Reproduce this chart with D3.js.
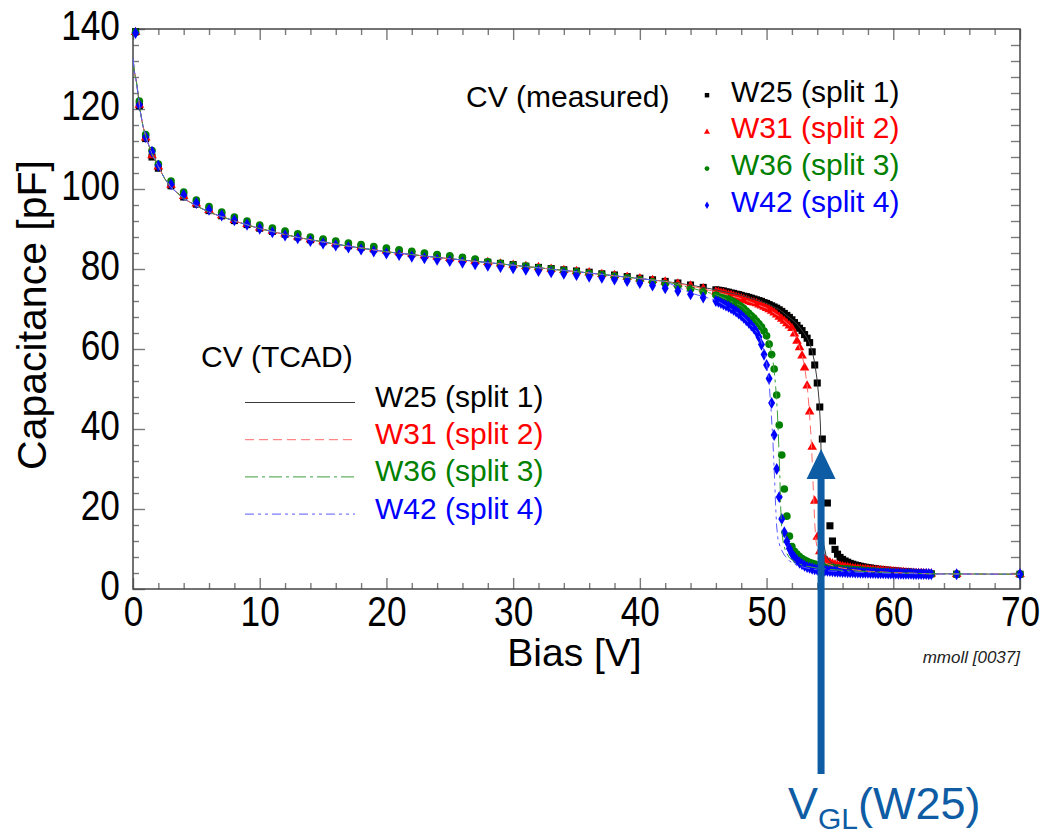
<!DOCTYPE html>
<html>
<head>
<meta charset="utf-8">
<script src="https://cdn.jsdelivr.net/npm/d3@7"></script>
<style>
  body { margin: 0; background: #fff; }
  svg { display: block; font-family: "Liberation Sans", Arial, sans-serif; }
</style>
</head>
<body>
<script>
// ---- data ----
// bias points of the measured CV scans (same for every wafer)
const V_MEAS = [
  0.2, 0.5, 1, 1.5, 2, 3, 4, 5, 6, 7, 8, 9, 10, 11, 12, 13, 14, 15, 16, 17,
  18, 19, 20, 21, 22, 23, 24, 25, 26, 27, 28, 29, 30, 31, 32, 33, 34, 35, 36, 37,
  38, 39, 40, 41, 42, 43, 44, 45,
  46.0, 46.2, 46.4, 46.6, 46.8, 47.0, 47.2, 47.4, 47.6, 47.8,
  48.0, 48.2, 48.4, 48.6, 48.8, 49.0, 49.2, 49.4, 49.6, 49.8,
  50.0, 50.2, 50.4, 50.6, 50.8, 51.0, 51.2, 51.4, 51.6, 51.8,
  52.0, 52.2, 52.4, 52.6, 52.8, 53.0, 53.2, 53.4, 53.6, 53.8,
  54.0, 54.2, 54.4, 54.6, 54.8, 55.0, 55.2, 55.4, 55.6, 55.8,
  56.0, 56.2, 56.4, 56.6, 56.8, 57.0, 57.2, 57.4, 57.6, 57.8,
  58.0, 58.2, 58.4, 58.6, 58.8, 59.0, 59.2, 59.4, 59.6, 59.8,
  60.0, 60.2, 60.4, 60.6, 60.8, 61.0, 61.2, 61.4, 61.6, 61.8,
  62.0, 62.2, 62.4, 62.6, 62.8, 63.0,
  65, 70
];

// measured capacitance [pF]
const C_W25 = [
  139.3, 120.8, 112.6, 108.0, 105.2, 100.8, 98.0, 96.2, 94.6, 93.3,
  92.1, 91.1, 90.2, 89.4, 88.7, 88.0, 87.3, 86.8, 86.3, 85.8,
  85.4, 85.0, 84.6, 84.2, 83.8, 83.4, 83.1, 82.7, 82.4, 82.0,
  81.7, 81.4, 81.1, 80.7, 80.4, 80.1, 79.8, 79.5, 79.2, 78.8,
  78.5, 78.1, 77.7, 77.3, 76.9, 76.5, 76.0, 75.4,
  74.8, 74.7, 74.6, 74.5, 74.3, 74.2, 74.0, 73.9, 73.7, 73.6,
  73.4, 73.2, 73.1, 72.9, 72.7, 72.5, 72.3, 72.1, 71.9, 71.6,
  71.4, 71.1, 70.8, 70.5, 70.2, 69.8, 69.4, 68.9, 68.4, 67.9,
  67.3, 66.6, 65.9, 65.2, 64.6, 63.6, 62.7, 61.6, 59.3, 56.0,
  51.5, 45.5, 37.5, 29.0, 21.5, 15.8, 12.0, 9.9, 8.7, 7.9,
  7.4, 7.0, 6.7, 6.4, 6.2, 6.0, 5.85, 5.7, 5.55, 5.45,
  5.35, 5.25, 5.15, 5.05, 4.95, 4.9, 4.8, 4.75, 4.7, 4.6,
  4.55, 4.5, 4.45, 4.4, 4.35, 4.3, 4.25, 4.2, 4.15, 4.1,
  4.05, 4.0, 3.95, 3.9, 3.85, 3.8,
  3.7, 3.7
];
const C_W31 = [
  139.2, 121.0, 112.8, 108.4, 105.6, 101.0, 98.2, 96.3, 94.7, 93.4,
  92.2, 91.2, 90.3, 89.5, 88.8, 88.1, 87.4, 86.9, 86.4, 85.9,
  85.5, 85.1, 84.6, 84.2, 83.8, 83.4, 83.1, 82.7, 82.4, 82.0,
  81.7, 81.3, 81.0, 80.7, 80.4, 80.0, 79.7, 79.4, 79.1, 78.7,
  78.4, 78.0, 77.6, 77.2, 76.8, 76.3, 75.8, 75.1,
  74.3, 74.2, 74.0, 73.9, 73.7, 73.5, 73.4, 73.2, 73.0, 72.8,
  72.6, 72.4, 72.2, 71.9, 71.7, 71.6, 71.4, 71.1, 70.8, 70.5,
  70.2, 69.9, 69.5, 69.1, 68.6, 68.0, 67.5, 67.0, 66.4, 65.8,
  65.2, 63.8, 62.0, 60.4, 58.3, 55.3, 50.8, 44.3, 35.5, 22.0,
  13.0, 9.4, 8.2, 7.4, 6.9, 6.6, 6.3, 6.1, 5.9, 5.75,
  5.6, 5.5, 5.4, 5.3, 5.2, 5.1, 5.05, 5.0, 4.95, 4.9,
  4.85, 4.8, 4.75, 4.7, 4.65, 4.6, 4.55, 4.5, 4.45, 4.4,
  4.35, 4.3, 4.25, 4.2, 4.15, 4.1, 4.05, 4.0, 3.98, 3.95,
  3.92, 3.9, 3.87, 3.85, 3.82, 3.8,
  3.7, 3.7
];
const C_W36 = [
  139.2, 122.0, 113.6, 109.6, 106.2, 102.0, 99.2, 97.2, 95.6, 94.2,
  93.0, 92.0, 91.0, 90.2, 89.5, 88.8, 88.0, 87.5, 87.0, 86.5,
  86.1, 85.6, 85.2, 84.8, 84.4, 84.0, 83.6, 83.3, 82.9, 82.5,
  81.8, 81.4, 81.0, 80.7, 80.3, 80.0, 79.6, 79.3, 78.9, 78.6,
  78.2, 77.8, 77.3, 76.8, 76.3, 75.7, 75.0, 74.3,
  73.5, 73.3, 73.1, 72.9, 72.7, 72.4, 72.1, 71.8, 71.4, 71.0,
  70.6, 70.1, 69.5, 68.9, 68.3, 67.7, 67.0, 66.3, 65.5, 64.5,
  63.3, 61.2, 58.6, 55.0, 48.5, 41.0, 33.5, 25.0, 18.2, 13.2,
  10.6, 9.4, 8.7, 8.1, 7.6, 7.2, 6.9, 6.6, 6.4, 6.2,
  6.0, 5.85, 5.7, 5.6, 5.5, 5.4, 5.3, 5.25, 5.2, 5.1,
  5.05, 5.0, 4.95, 4.9, 4.85, 4.8, 4.75, 4.7, 4.65, 4.6,
  4.55, 4.5, 4.45, 4.4, 4.38, 4.35, 4.3, 4.25, 4.2, 4.18,
  4.15, 4.1, 4.07, 4.05, 4.02, 4.0, 3.97, 3.95, 3.92, 3.9,
  3.87, 3.85, 3.82, 3.8, 3.78, 3.75,
  3.7, 3.7
];
const C_W42 = [
  139.0, 121.0, 113.0, 109.3, 105.8, 101.2, 98.5, 96.5, 94.8, 93.4,
  92.2, 91.1, 90.1, 89.2, 88.4, 87.7, 87.0, 86.4, 85.9, 85.4,
  84.9, 84.4, 83.9, 83.5, 83.1, 82.7, 82.3, 82.0, 81.6, 81.2,
  80.8, 80.5, 80.2, 79.8, 79.5, 79.2, 78.8, 78.5, 78.1, 77.8,
  77.4, 77.0, 76.5, 75.9, 75.2, 74.5, 73.7, 72.9,
  72.0, 71.8, 71.5, 71.2, 70.9, 70.6, 70.2, 69.8, 69.4, 68.9,
  68.4, 67.8, 67.2, 66.6, 65.9, 65.2, 64.3, 63.0, 61.1, 58.6,
  56.0, 52.6, 46.5, 38.5, 30.0, 23.0, 17.5, 14.2, 11.9, 10.1,
  8.8, 7.9, 7.2, 6.6, 6.2, 5.8, 5.5, 5.3, 5.1, 4.95,
  4.85, 4.75, 4.65, 4.6, 4.55, 4.5, 4.45, 4.4, 4.35, 4.3,
  4.28, 4.25, 4.22, 4.2, 4.17, 4.15, 4.12, 4.1, 4.08, 4.06,
  4.04, 4.02, 4.0, 3.98, 3.96, 3.95, 3.93, 3.92, 3.9, 3.89,
  3.88, 3.86, 3.85, 3.84, 3.83, 3.82, 3.8, 3.79, 3.78, 3.77,
  3.76, 3.75, 3.74, 3.73, 3.72, 3.7,
  3.7, 3.7
];

// TCAD simulation: the four curves coincide below 44 V
const TCAD_LOW = [
  [0, 132.7], [0.1, 129.5], [0.3, 126.2], [0.55, 119.8], [0.8, 115.5], [1.1, 112.2],
  [1.5, 108.8], [1.9, 106.2], [2.5, 102.6], [3, 100.4], [4, 97.6], [5, 95.8],
  [6, 94.2], [8, 92.0], [10, 90.1], [13, 87.9], [16, 86.2], [20, 84.3],
  [24, 82.9], [28, 81.6], [32, 80.3], [36, 79.0], [40, 77.6], [42, 76.9]
];
const TCAD_W25 = [
  [44, 76.0], [46, 74.8], [48, 73.4], [50, 71.4], [51, 69.9], [52, 67.4], [52.5, 65.9],
  [53, 63.8], [53.3, 62.2], [53.6, 59.5], [53.8, 56.5], [54.0, 52.0], [54.15, 47.0],
  [54.25, 41.0], [54.32, 32.0], [54.38, 22.0], [54.44, 15.0], [54.52, 11.0], [54.7, 8.3],
  [55.0, 6.9], [55.5, 5.9], [56, 5.3], [57, 4.7], [58, 4.4], [60, 4.05], [63, 3.8], [70, 3.7]
];
const TCAD_W31 = [
  [44, 75.8], [46, 74.3], [48, 72.6], [50, 70.2], [51, 68.2], [52, 65.3], [52.4, 62.3],
  [52.8, 58.5], [53.0, 55.6], [53.2, 51.0], [53.35, 45.5], [53.5, 38.5], [53.6, 32.0],
  [53.7, 24.0], [53.8, 16.5], [53.9, 12.0], [54.05, 9.2], [54.3, 7.5], [54.7, 6.4],
  [55.3, 5.7], [56, 5.2], [57, 4.75], [58, 4.45], [60, 4.1], [63, 3.8], [70, 3.7]
];
const TCAD_W36 = [
  [44, 75.3], [46, 73.6], [48, 70.8], [49, 67.8], [49.6, 65.5], [50.0, 63.4], [50.3, 60.5],
  [50.5, 57.2], [50.7, 51.5], [50.85, 44.5], [50.95, 37.0], [51.05, 28.0], [51.12, 20.0],
  [51.2, 14.5], [51.32, 11.5], [51.5, 9.4], [51.8, 7.8], [52.3, 6.6], [53, 5.8], [54, 5.2],
  [55, 4.9], [56, 4.65], [58, 4.3], [60, 4.05], [63, 3.8], [70, 3.7]
];
const TCAD_W42 = [
  [44, 74.0], [46, 72.2], [48, 68.5], [49, 65.3], [49.5, 62.8], [49.8, 59.6], [50.0, 56.5],
  [50.2, 51.5], [50.35, 45.0], [50.5, 37.0], [50.62, 28.5], [50.72, 20.5], [50.8, 15.5],
  [50.9, 12.5], [51.1, 10.2], [51.4, 8.5], [51.8, 7.0], [52.5, 5.8], [53.5, 5.0], [55, 4.5],
  [57, 4.2], [60, 3.9], [63, 3.75], [70, 3.7]
];

const SERIES_LABELS = ['W25 (split 1)', 'W31 (split 2)', 'W36 (split 3)', 'W42 (split 4)'];
const X_TICKS = [0, 10, 20, 30, 40, 50, 60, 70];
const Y_TICKS = [0, 20, 40, 60, 80, 100, 120, 140];
const VGL_W25 = 54.3;   // arrow marks the gain-layer depletion voltage of W25
const VGL_TIP_C = 35;

// ---- layout ----
const WIDTH = 1043, HEIGHT = 834;
const PLOT = { left: 133, right: 1020, top: 29, bottom: 589 };
const COLORS = ['#000000', '#ff0000', '#008000', '#0000ff'];
const LINE_COLORS = ['#3a3a3a', '#ff6a6a', '#3c9e3c', '#5a5aff'];
const DASHES = [null, '9,5', '13,4,3,4', '9,4,3,4,3,4'];
const SYMBOLS = [d3.symbolSquare, d3.symbolTriangle, d3.symbolCircle, d3.symbolDiamond];
const SYM_SIZE = [50, 40, 46, 42];
const ARROW_COLOR = '#0e5ca4';

const x = d3.scaleLinear().domain([0, 70]).range([PLOT.left, PLOT.right]);
const y = d3.scaleLinear().domain([0, 140]).range([PLOT.bottom, PLOT.top]);

const svg = d3.select('body').append('svg')
  .attr('width', WIDTH)
  .attr('height', HEIGHT);

// ---- axes (ticks point inwards) ----
const xMinor = d3.range(0, 70.1, 2).filter(v => v % 10 !== 0);
const yMinor = d3.range(0, 140.1, 4).filter(v => v % 20 !== 0);

function styleTicks(g) {
  g.select('.domain').remove();
  g.attr('font-family', null).attr('font-size', null);
  g.selectAll('line').attr('stroke', '#7a7a7a').attr('stroke-width', 1.4);
}

// bottom
svg.append('g')
  .attr('transform', `translate(0,${PLOT.bottom})`)
  .call(d3.axisBottom(x).tickValues(xMinor).tickSize(-6).tickFormat(''))
  .call(styleTicks);
svg.append('g')
  .attr('transform', `translate(0,${PLOT.bottom})`)
  .call(d3.axisBottom(x).tickValues(X_TICKS).tickSize(-11).tickPadding(7).tickFormat(d3.format('d')))
  .call(styleTicks)
  .call(g => g.selectAll('text')
    .attr('font-size', 42)
    .attr('fill', '#000')
    .attr('transform', 'scale(0.84,1)'));

// top
svg.append('g')
  .attr('transform', `translate(0,${PLOT.top})`)
  .call(d3.axisTop(x).tickValues(xMinor).tickSize(-6).tickFormat(''))
  .call(styleTicks);
svg.append('g')
  .attr('transform', `translate(0,${PLOT.top})`)
  .call(d3.axisTop(x).tickValues(X_TICKS).tickSize(-11).tickFormat(''))
  .call(styleTicks);

// left
svg.append('g')
  .attr('transform', `translate(${PLOT.left},0)`)
  .call(d3.axisLeft(y).tickValues(yMinor).tickSize(-6).tickFormat(''))
  .call(styleTicks);
svg.append('g')
  .attr('transform', `translate(${PLOT.left},0)`)
  .call(d3.axisLeft(y).tickValues(Y_TICKS).tickSize(-12).tickPadding(15.5).tickFormat(d3.format('d')))
  .call(styleTicks)
  .call(g => g.selectAll('text')
    .attr('font-size', 42)
    .attr('fill', '#000')
    .attr('dy', '0.26em')
    .attr('transform', 'scale(0.84,1)'));

// right
svg.append('g')
  .attr('transform', `translate(${PLOT.right},0)`)
  .call(d3.axisRight(y).tickValues(d3.range(4, 140, 4)).tickSize(-9).tickFormat(''))
  .call(styleTicks);

// frame
svg.append('rect')
  .attr('x', PLOT.left)
  .attr('y', PLOT.top)
  .attr('width', PLOT.right - PLOT.left)
  .attr('height', PLOT.bottom - PLOT.top)
  .attr('fill', 'none')
  .attr('stroke', '#454545')
  .attr('stroke-width', 1.5);

// axis titles
svg.append('text')
  .attr('x', x(35) - 2)
  .attr('y', 666)
  .attr('text-anchor', 'middle')
  .attr('font-size', 39)
  .text('Bias [V]');

svg.append('text')
  .attr('transform', `translate(46, ${y(70) + 6}) rotate(-90)`)
  .attr('text-anchor', 'middle')
  .attr('font-size', 41)
  .text('Capacitance [pF]');

svg.append('text')
  .attr('x', PLOT.right)
  .attr('y', 663)
  .attr('text-anchor', 'end')
  .attr('font-size', 17)
  .attr('font-style', 'italic')
  .attr('fill', '#222')
  .text('mmoll [0037]');

// ---- measured points ----
const measured = [C_W25, C_W31, C_W36, C_W42];
measured.forEach((caps, i) => {
  svg.append('g')
    .selectAll('path')
    .data(V_MEAS.map((v, k) => ({ v: v, c: caps[k] })))
    .enter().append('path')
    .attr('transform', d => `translate(${x(d.v)},${y(d.c)})`)
    .attr('d', d3.symbol().type(SYMBOLS[i]).size(SYM_SIZE[i]))
    .attr('fill', COLORS[i]);
});

// ---- TCAD curves ----
const line = d3.line().x(d => x(d[0])).y(d => y(d[1]));
const tcad = [TCAD_W25, TCAD_W31, TCAD_W36, TCAD_W42];
tcad.forEach((tail, i) => {
  svg.append('path')
    .datum(TCAD_LOW.concat(tail))
    .attr('d', line)
    .attr('fill', 'none')
    .attr('stroke', LINE_COLORS[i])
    .attr('stroke-width', 1)
    .attr('stroke-dasharray', DASHES[i]);
});

// ---- legend: measured ----
const legM = svg.append('g');
legM.append('text')
  .attr('x', 466)
  .attr('y', 106.5)
  .attr('font-size', 30)
  .text('CV (measured)');
SERIES_LABELS.forEach((label, i) => {
  const base = 101.7 + i * 36.7;
  legM.append('path')
    .attr('transform', `translate(707,${base - 6.5})`)
    .attr('d', d3.symbol().type(SYMBOLS[i]).size(SYM_SIZE[i] * 0.4))
    .attr('fill', COLORS[i]);
  legM.append('text')
    .attr('x', 731)
    .attr('y', base)
    .attr('font-size', 30)
    .attr('fill', COLORS[i])
    .text(label);
});

// ---- legend: TCAD ----
const legT = svg.append('g');
legT.append('text')
  .attr('x', 201)
  .attr('y', 366.5)
  .attr('font-size', 30)
  .text('CV (TCAD)');
SERIES_LABELS.forEach((label, i) => {
  const base = 407 + i * 37.2;
  legT.append('line')
    .attr('x1', 245)
    .attr('x2', 355)
    .attr('y1', base - 4.5)
    .attr('y2', base - 4.5)
    .attr('stroke', LINE_COLORS[i])
    .attr('stroke-width', 1)
    .attr('stroke-dasharray', DASHES[i]);
  legT.append('text')
    .attr('x', 375)
    .attr('y', base)
    .attr('font-size', 30)
    .attr('fill', COLORS[i])
    .text(label);
});

// ---- V_GL arrow ----
const ax = x(VGL_W25), tipY = y(VGL_TIP_C);
const ARROW = { headLen: 30, headHalf: 14.5, shaft: 7, bottom: 774 };
svg.append('rect')
  .attr('x', ax - ARROW.shaft / 2)
  .attr('y', tipY + ARROW.headLen - 1)
  .attr('width', ARROW.shaft)
  .attr('height', ARROW.bottom - tipY - ARROW.headLen + 1)
  .attr('fill', ARROW_COLOR);
svg.append('path')
  .attr('d', `M${ax},${tipY} L${ax + ARROW.headHalf},${tipY + ARROW.headLen} L${ax - ARROW.headHalf},${tipY + ARROW.headLen} Z`)
  .attr('fill', ARROW_COLOR);

const vgl = svg.append('text')
  .attr('x', 788)
  .attr('y', 819)
  .attr('font-size', 45)
  .attr('fill', ARROW_COLOR);
vgl.append('tspan').text('V');
vgl.append('tspan').attr('font-size', 30).attr('dy', 10).text('GL');
vgl.append('tspan').attr('dy', -10).text('(W25)');
</script>
</body>
</html>
